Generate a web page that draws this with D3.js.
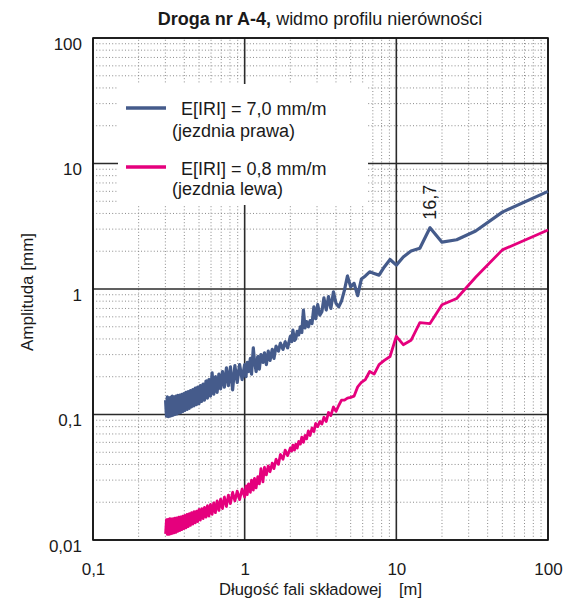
<!DOCTYPE html>
<html>
<head>
<meta charset="utf-8">
<script src="https://cdn.jsdelivr.net/npm/d3@7"></script>
<style>
  body { margin: 0; background: #fff; }
  text { font-family: "Liberation Sans", Arial, sans-serif; fill: #1a1a1a; }
</style>
</head>
<body>
<svg id="chart" width="574" height="601"></svg>
<script>
var svg = d3.select("#chart");

// wavelength of each spectral component [m]
var lambdaM = [
  100, 50, 33.33, 25, 20, 16.67, 14.29, 12.5, 11.11, 10,
  9.09, 8.33, 7.69, 7.14, 6.67, 6.25, 5.88, 5.56, 5.26, 5.0,
  4.76, 4.55, 4.35, 4.17, 4.0, 3.85, 3.70, 3.57, 3.45, 3.33,
  3.23, 3.13, 3.03, 2.94, 2.86, 2.78, 2.70, 2.63, 2.56, 2.50,
  2.44, 2.38, 2.33, 2.27, 2.22, 2.17, 2.13, 2.08, 2.04, 2.0,
  1.92, 1.85, 1.79, 1.72, 1.67, 1.61, 1.56, 1.52, 1.47, 1.43,
  1.39, 1.35, 1.32, 1.28, 1.25, 1.22, 1.19, 1.16, 1.14, 1.11,
  1.09, 1.06, 1.04, 1.02, 1.0,
  0.962, 0.926, 0.893, 0.862, 0.833, 0.806, 0.781, 0.758, 0.735, 0.714,
  0.694, 0.676, 0.658, 0.641, 0.625, 0.610, 0.595, 0.581, 0.568, 0.556,
  0.543, 0.532, 0.521, 0.510, 0.500, 0.490, 0.481, 0.472, 0.463, 0.455,
  0.446, 0.439, 0.431, 0.424, 0.417, 0.410, 0.403, 0.397, 0.391, 0.385,
  0.379, 0.373, 0.368, 0.362, 0.357, 0.352, 0.347, 0.342, 0.338, 0.333,
  0.329, 0.325, 0.321, 0.317, 0.313, 0.309, 0.305, 0.301
];

// amplitude [mm], jezdnia prawa (E[IRI] = 7,0)
var ampRight = [
  6.0, 4.1, 2.9, 2.47, 2.36, 3.08, 2.11, 2.01, 1.8, 1.55,
  1.72, 1.5, 1.29, 1.33, 1.37, 1.27, 1.2, 0.885, 1.11, 1.04,
  1.27, 0.98, 0.8, 0.72, 0.77, 0.95, 0.70, 0.87, 0.68, 0.85,
  0.66, 0.62, 0.75, 0.58, 0.72, 0.53, 0.56, 0.50, 0.55, 0.49,
  0.68, 0.45, 0.50, 0.43, 0.46, 0.40, 0.39, 0.47, 0.38, 0.42,
  0.34, 0.38, 0.33, 0.37, 0.32, 0.35, 0.28, 0.33, 0.27, 0.32,
  0.25, 0.31, 0.26, 0.30, 0.23, 0.29, 0.22, 0.27, 0.34, 0.21,
  0.28, 0.22, 0.26, 0.20, 0.25,
  0.19, 0.25, 0.18, 0.245, 0.157, 0.24, 0.17, 0.235, 0.165, 0.22,
  0.16, 0.21, 0.15, 0.20, 0.145, 0.215, 0.14, 0.19, 0.135, 0.185,
  0.13, 0.175, 0.127, 0.17, 0.122, 0.165, 0.12, 0.162, 0.117, 0.158,
  0.115, 0.155, 0.112, 0.152, 0.11, 0.15, 0.108, 0.147, 0.106, 0.145,
  0.104, 0.143, 0.103, 0.142, 0.101, 0.14, 0.10, 0.138, 0.099, 0.14,
  0.098, 0.137, 0.097, 0.136, 0.096, 0.138, 0.097, 0.13
];

// amplitude [mm], jezdnia lewa (E[IRI] = 0,8)
var ampLeft = [
  2.95, 2.05, 1.24, 0.84, 0.75, 0.53, 0.54, 0.39, 0.36, 0.42,
  0.29, 0.27, 0.25, 0.21, 0.22, 0.19, 0.18, 0.166, 0.14, 0.137,
  0.135, 0.13, 0.13, 0.118, 0.106, 0.115, 0.098, 0.104, 0.088, 0.095,
  0.084, 0.088, 0.080, 0.085, 0.073, 0.078, 0.068, 0.074, 0.064, 0.068,
  0.060, 0.066, 0.058, 0.061, 0.054, 0.058, 0.052, 0.057, 0.051, 0.054,
  0.047, 0.052, 0.044, 0.048, 0.040, 0.044, 0.037, 0.041, 0.035, 0.039,
  0.033, 0.038, 0.029, 0.037, 0.028, 0.032, 0.026, 0.031, 0.025, 0.030,
  0.024, 0.028, 0.023, 0.027, 0.022,
  0.0255, 0.021, 0.0245, 0.0205, 0.024, 0.0195, 0.0228, 0.0185, 0.022, 0.0178,
  0.0212, 0.0172, 0.0205, 0.0165, 0.0198, 0.016, 0.0192, 0.0155, 0.0188, 0.0152,
  0.0182, 0.0148, 0.0178, 0.0144, 0.0175, 0.014, 0.017, 0.0137, 0.0168, 0.0134,
  0.0165, 0.0131, 0.0162, 0.0128, 0.016, 0.0125, 0.0157, 0.0123, 0.0155, 0.0121,
  0.0153, 0.0119, 0.0152, 0.0117, 0.015, 0.0115, 0.0149, 0.0114, 0.0148, 0.0113,
  0.0147, 0.0112, 0.0148, 0.0111, 0.0146, 0.0111, 0.0145, 0.0112
];

var xTicks = [0.1, 1, 10, 100];
var yTicks = [0.01, 0.1, 1, 10, 100];
var peakLabel = { lambda: 16.67, amp: 3.08, text: "16,7" };

var legendData = [
  { label: "E[IRI] = 7,0 mm/m", sub: "(jezdnia prawa)", color: "#455b8b" },
  { label: "E[IRI] = 0,8 mm/m", sub: "(jezdnia lewa)", color: "#e5007d" }
];

var x = d3.scaleLog().domain([0.1, 100]).range([93, 548]);
var y = d3.scaleLog().domain([0.01, 100]).range([540, 38]);

var comma = d => String(d).replace(".", ",");

// minor grid values 2..9 in each decade
var minorX = [], minorY = [];
[0.1, 1, 10].forEach(d => { for (var i = 2; i <= 9; i++) minorX.push(d * i); });
[0.01, 0.1, 1, 10].forEach(d => { for (var i = 2; i <= 9; i++) minorY.push(d * i); });

var grid = svg.append("g");
grid.selectAll(".mx").data(minorX).enter().append("line")
  .attr("x1", d => x(d)).attr("x2", d => x(d))
  .attr("y1", y(0.01)).attr("y2", y(100))
  .attr("stroke", "#8a8a8a").attr("stroke-width", 1)
  .attr("stroke-dasharray", "1,2.2");
grid.selectAll(".my").data(minorY).enter().append("line")
  .attr("y1", d => y(d)).attr("y2", d => y(d))
  .attr("x1", x(0.1)).attr("x2", x(100))
  .attr("stroke", "#8a8a8a").attr("stroke-width", 1)
  .attr("stroke-dasharray", "1,2.2");
grid.selectAll(".Mx").data(xTicks).enter().append("line")
  .attr("x1", d => x(d)).attr("x2", d => x(d))
  .attr("y1", y(0.01)).attr("y2", y(100))
  .attr("stroke", "#2b2b2b").attr("stroke-width", 1.6);
grid.selectAll(".My").data(yTicks).enter().append("line")
  .attr("y1", d => y(d)).attr("y2", d => y(d))
  .attr("x1", x(0.1)).attr("x2", x(100))
  .attr("stroke", "#2b2b2b").attr("stroke-width", 1.6);

// legend box hides the grid
var legend = svg.append("g");
legend.append("rect")
  .attr("x", 118).attr("y", 84).attr("width", 250).attr("height", 121)
  .attr("fill", "#fff");
legend.selectAll("line").data(legendData).enter().append("line")
  .attr("x1", 126).attr("x2", 166)
  .attr("y1", (d, i) => 108 + i * 59).attr("y2", (d, i) => 108 + i * 59)
  .attr("stroke", d => d.color).attr("stroke-width", 3.5);
legend.selectAll(".lab").data(legendData).enter().append("text")
  .attr("x", 181).attr("y", (d, i) => 115 + i * 60)
  .style("font-size", "18px").text(d => d.label);
legend.selectAll(".sub").data(legendData).enter().append("text")
  .attr("x", 172).attr("y", (d, i) => 137 + i * 58)
  .style("font-size", "18px").text(d => d.sub);

// frame
svg.append("rect")
  .attr("x", x(0.1)).attr("y", y(100))
  .attr("width", x(100) - x(0.1)).attr("height", y(0.01) - y(100))
  .attr("fill", "none").attr("stroke", "#111").attr("stroke-width", 1.6);

// curves
var line = d3.line().x(d => x(d[0])).y(d => y(d[1]));
var series = [
  { values: ampRight, color: legendData[0].color, w: 3.2 },
  { values: ampLeft, color: legendData[1].color, w: 2.8 }
];
svg.selectAll(".curve").data(series).enter().append("path")
  .attr("d", s => line(lambdaM.map((l, i) => [l, s.values[i]])))
  .attr("fill", "none").attr("stroke", s => s.color)
  .attr("stroke-width", s => s.w).attr("stroke-linejoin", "round");

svg.append("text")
  .attr("transform", "translate(" + (x(peakLabel.lambda) + 6) + "," + (y(peakLabel.amp) - 8) + ") rotate(-90)")
  .style("font-size", "18px").text(peakLabel.text);

// axes
var xAxis = d3.axisBottom(x).tickValues(xTicks).tickFormat(comma).tickSize(0).tickPadding(23);
var gx = svg.append("g").attr("transform", "translate(0," + y(0.01) + ")").call(xAxis);
var yAxis = d3.axisLeft(y).tickValues(yTicks).tickFormat(comma).tickSize(0).tickPadding(11);
var gy = svg.append("g").attr("transform", "translate(" + x(0.1) + ",0)").call(yAxis);
[gx, gy].forEach(g => {
  g.select(".domain").remove();
  g.selectAll("text").style("font-size", "17px")
    .style("font-family", "'Liberation Sans', Arial, sans-serif").attr("fill", "#1a1a1a");
});
gy.selectAll("text").attr("y", 6);

// titles
var title = svg.append("text").attr("x", 320).attr("y", 25)
  .attr("text-anchor", "middle").style("font-size", "18px");
title.append("tspan").style("font-weight", "bold").text("Droga nr A-4,");
title.append("tspan").text(" widmo profilu nierówności");

// x title: main part fitted between 219 and 382, unit placed apart
var xMain = svg.append("text").attr("x", 219).attr("y", 595)
  .style("font-size", "17px").text("Długość fali składowej");
var fit = 17 * 163 / xMain.node().getComputedTextLength();
xMain.style("font-size", Math.min(fit, 18.5) + "px");
svg.append("text").attr("x", 399).attr("y", 595)
  .style("font-size", Math.min(fit, 18.5) + "px").text("[m]");

svg.append("text").attr("transform", "translate(33,292) rotate(-90)")
  .attr("text-anchor", "middle").style("font-size", "17px")
  .text("Amplituda [mm]");
</script>
</body>
</html>
